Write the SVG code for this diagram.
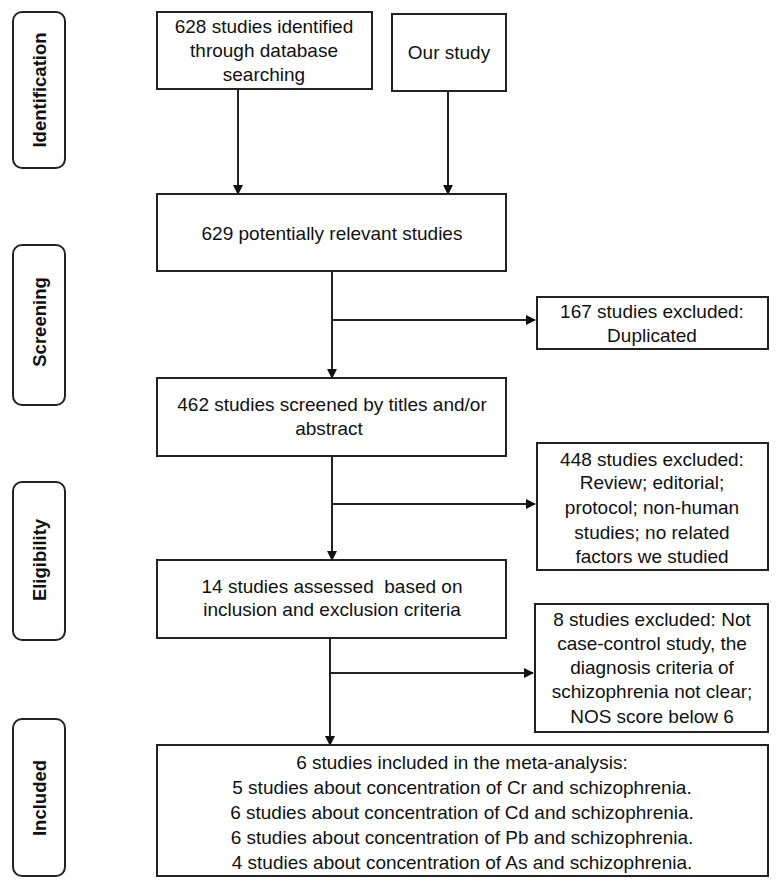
<svg xmlns="http://www.w3.org/2000/svg" width="780" height="886" viewBox="0 0 780 886">
<style>
.box{fill:#fff;stroke:#222;stroke-width:2}
.side{fill:#fff;stroke:#222;stroke-width:2}
.t{font-family:"Liberation Sans",Arial,sans-serif;font-size:19px;fill:#111;text-anchor:middle}
.s{font-family:"Liberation Sans",Arial,sans-serif;font-size:18.5px;font-weight:bold;fill:#111;text-anchor:middle}
.c{fill:none;stroke:#222;stroke-width:2}
</style>
<defs>
<marker id="ah" markerWidth="10" markerHeight="10" refX="9" refY="5" orient="auto" markerUnits="userSpaceOnUse">
<path d="M0,0 L10,5 L0,10 Z" fill="#111"/>
</marker>
</defs>
<rect width="780" height="886" fill="#fff"/>
<g id="side-identification"><rect class="side" x="13" y="12" width="52" height="156" rx="9"/><text class="s" transform="translate(46,90) rotate(-90)">Identification</text></g>
<g id="side-screening"><rect class="side" x="13" y="245" width="52" height="160" rx="9"/><text class="s" transform="translate(46,322) rotate(-90)">Screening</text></g>
<g id="side-eligibility"><rect class="side" x="13" y="482" width="52" height="158" rx="9"/><text class="s" transform="translate(46,560) rotate(-90)">Eligibility</text></g>
<g id="side-included"><rect class="side" x="13" y="719" width="52" height="157" rx="9"/><text class="s" transform="translate(46,798) rotate(-90)">Included</text></g>

<g id="connectors">
<line class="c" x1="238" y1="89" x2="238" y2="194" marker-end="url(#ah)"/>
<line class="c" x1="448" y1="91" x2="448" y2="194" marker-end="url(#ah)"/>
<line class="c" x1="332" y1="271" x2="332" y2="378" marker-end="url(#ah)"/>
<line class="c" x1="332" y1="320" x2="535" y2="320" marker-end="url(#ah)"/>
<line class="c" x1="332" y1="456" x2="332" y2="560" marker-end="url(#ah)"/>
<line class="c" x1="332" y1="504" x2="535" y2="504" marker-end="url(#ah)"/>
<line class="c" x1="330" y1="638" x2="330" y2="745" marker-end="url(#ah)"/>
<line class="c" x1="330" y1="673" x2="533" y2="673" marker-end="url(#ah)"/>
</g>

<g id="n-db"><rect class="box" x="157" y="12" width="215" height="77"/>
<text class="t" x="264" y="33">628 studies identified</text>
<text class="t" x="264" y="57">through database</text>
<text class="t" x="264" y="81">searching</text></g>
<g id="n-our"><rect class="box" x="392" y="14" width="114" height="77"/>
<text class="t" x="449" y="59">Our study</text></g>
<g id="n-629"><rect class="box" x="157" y="194" width="349" height="77"/>
<text class="t" x="332" y="240">629 potentially relevant studies</text></g>
<g id="n-167"><rect class="box" x="537" y="297" width="231" height="52"/>
<text class="t" x="652" y="318">167 studies excluded:</text>
<text class="t" x="652" y="342">Duplicated</text></g>
<g id="n-462"><rect class="box" x="157" y="378" width="349" height="78"/>
<text class="t" x="332" y="411">462 studies screened by titles and/or</text>
<text class="t" x="329" y="435">abstract</text></g>
<g id="n-448"><rect class="box" x="537" y="443" width="231" height="127"/>
<text class="t" x="652" y="466">448 studies excluded:</text>
<text class="t" x="652" y="489">Review; editorial;</text>
<text class="t" x="652" y="514">protocol; non-human</text>
<text class="t" x="652" y="539">studies; no related</text>
<text class="t" x="652" y="563">factors we studied</text></g>
<g id="n-14"><rect class="box" x="157" y="560" width="349" height="78"/>
<text class="t" x="332" y="593" style="white-space:pre">14 studies assessed  based on</text>
<text class="t" x="332" y="616">inclusion and exclusion criteria</text></g>
<g id="n-8"><rect class="box" x="535" y="604" width="233" height="128"/>
<text class="t" x="652" y="626">8 studies excluded: Not</text>
<text class="t" x="652" y="650">case-control study, the</text>
<text class="t" x="652" y="674">diagnosis criteria of</text>
<text class="t" x="652" y="698">schizophrenia not clear;</text>
<text class="t" x="652" y="723">NOS score below 6</text></g>
<g id="n-6"><rect class="box" x="157" y="745" width="611" height="131"/>
<text class="t" x="462" y="769">6 studies included in the meta-analysis:</text>
<text class="t" x="462" y="794">5 studies about concentration of Cr and schizophrenia.</text>
<text class="t" x="462" y="819">6 studies about concentration of Cd and schizophrenia.</text>
<text class="t" x="462" y="844">6 studies about concentration of Pb and schizophrenia.</text>
<text class="t" x="462" y="869">4 studies about concentration of As and schizophrenia.</text></g>
</svg>
